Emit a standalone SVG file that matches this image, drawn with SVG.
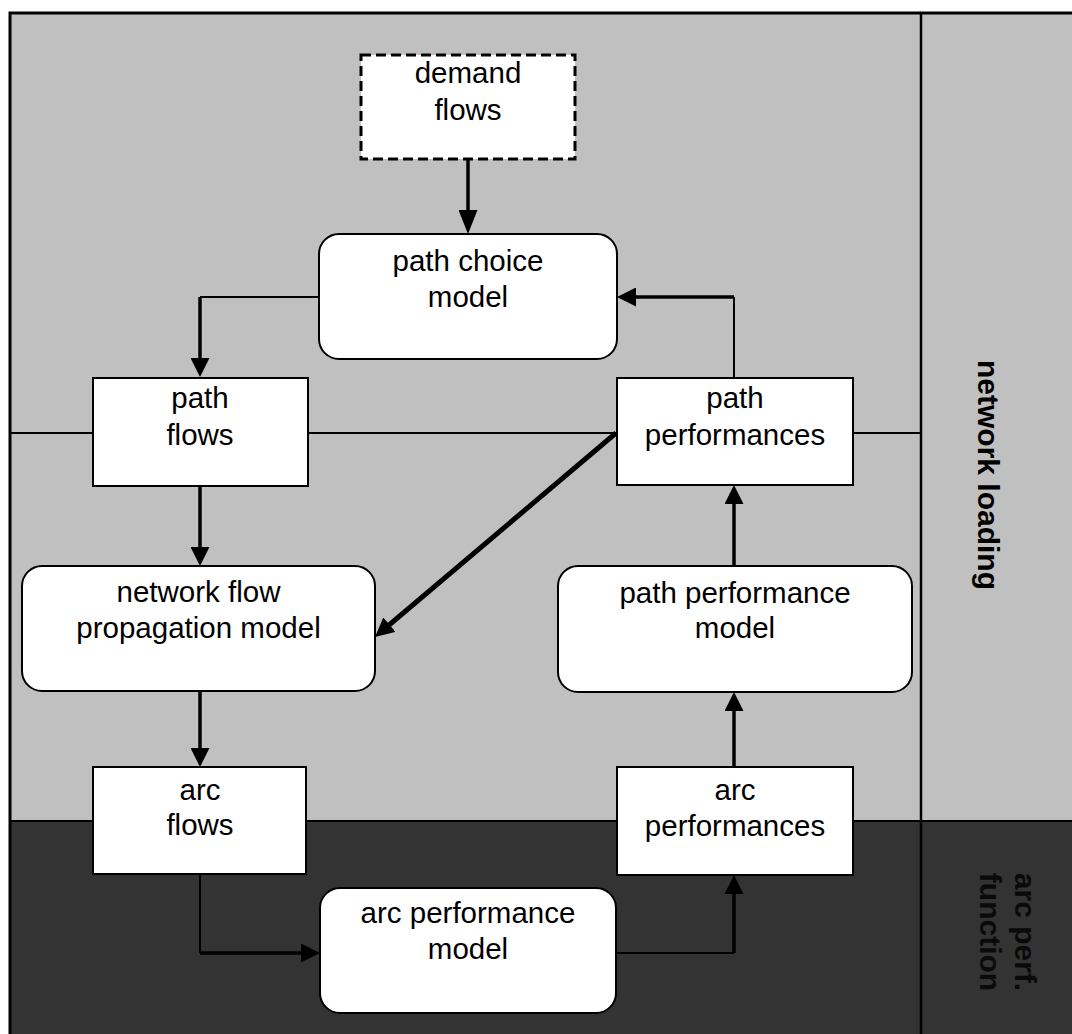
<svg xmlns="http://www.w3.org/2000/svg" width="1072" height="1034" viewBox="0 0 1072 1034">
<style>
.box{fill:#ffffff;stroke:#000000;stroke-width:2}
.dash{fill:#ffffff;stroke:#000000;stroke-width:3;stroke-dasharray:10 5}
.t{font-family:"Liberation Sans",Arial,sans-serif;font-size:29.5px;fill:#000000;text-anchor:middle}
.side{font-family:"Liberation Sans",Arial,sans-serif;font-size:30px;font-weight:bold;text-anchor:middle}
.thin{fill:none;stroke:#000000;stroke-width:2}
.thick{fill:none;stroke:#000000;stroke-width:3.5}
.diag{fill:none;stroke:#000000;stroke-width:5}
.div{fill:none;stroke:#000000;stroke-width:2}
</style>
<defs>
<marker id="ah" viewBox="0 0 19 19" markerWidth="19" markerHeight="19" refX="9" refY="9.5" orient="auto" markerUnits="userSpaceOnUse">
<path d="M0,0 L19,9.5 L0,19 z" fill="#000000"/>
</marker>
<marker id="ahl" viewBox="0 0 24 19" markerWidth="24" markerHeight="19" refX="12" refY="9.5" orient="auto" markerUnits="userSpaceOnUse">
<path d="M0,0 L24,9.5 L0,19 z" fill="#000000"/>
</marker>
</defs>
<g id="background">
<rect x="10" y="13" width="1064" height="808" fill="#c0c0c0"/>
<rect x="10" y="821" width="1064" height="215" fill="#333333"/>
<line class="div" x1="10" y1="433" x2="921" y2="433"/>
<line class="div" x1="10" y1="821" x2="1074" y2="821"/>
<line x1="921" y1="13" x2="921" y2="1036" stroke="#000000" stroke-width="2.5"/>
<rect x="10" y="13" width="1070" height="1030" fill="none" stroke="#000000" stroke-width="3"/>
</g>
<g id="lane-network-loading">
<text class="side" fill="#000000" transform="translate(978,475) rotate(90)">network loading</text>
</g>
<g id="lane-arc-perf-function">
<text class="side" fill="#0a0a0a" transform="translate(1015,932) rotate(90)">arc perf.</text>
<text class="side" fill="#0a0a0a" transform="translate(980,932) rotate(90)">function</text>
</g>
<g id="connectors">
<path class="thick" d="M468,159 V222" marker-end="url(#ahl)"/>
<path class="thin" d="M319,297 H200"/>
<path class="thick" d="M200,297 V367" marker-end="url(#ah)"/>
<path class="thick" d="M200,487 V556" marker-end="url(#ah)"/>
<path class="diag" d="M616,433 L382.6,630.5" marker-end="url(#ah)"/>
<path class="thick" d="M200,691 V757" marker-end="url(#ah)"/>
<path class="thin" d="M200,874 V953"/>
<path class="thick" d="M200,953 H310" marker-end="url(#ah)"/>
<path class="thin" d="M616,953 H734"/>
<path class="thick" d="M734,953 V885" marker-end="url(#ah)"/>
<path class="thick" d="M734,767 V702" marker-end="url(#ah)"/>
<path class="thick" d="M734,566 V495" marker-end="url(#ah)"/>
<path class="thin" d="M734,378 V297"/>
<path class="thick" d="M734,297 H627" marker-end="url(#ah)"/>
</g>
<g id="demand-flows">
<rect class="dash" x="361" y="55" width="214" height="104"/>
<text class="t" x="468" y="83">demand</text>
<text class="t" x="468" y="120">flows</text>
</g>
<g id="path-choice-model">
<rect class="box" x="319" y="234" width="298" height="125" rx="20"/>
<text class="t" x="468" y="271">path choice</text>
<text class="t" x="468" y="307">model</text>
</g>
<g id="path-flows">
<rect class="box" x="93" y="378" width="215" height="108"/>
<text class="t" x="200" y="408">path</text>
<text class="t" x="200" y="445">flows</text>
</g>
<g id="path-performances">
<rect class="box" x="617" y="378" width="236" height="107"/>
<text class="t" x="735" y="408">path</text>
<text class="t" x="735" y="445">performances</text>
</g>
<g id="network-flow-propagation-model">
<rect class="box" x="22" y="566" width="353" height="125" rx="20"/>
<text class="t" x="198.5" y="602">network flow</text>
<text class="t" x="198.5" y="638">propagation model</text>
</g>
<g id="path-performance-model">
<rect class="box" x="558" y="566" width="354" height="126" rx="20"/>
<text class="t" x="735" y="603">path performance</text>
<text class="t" x="735" y="638">model</text>
</g>
<g id="arc-flows">
<rect class="box" x="93" y="767" width="213" height="107"/>
<text class="t" x="200" y="800">arc</text>
<text class="t" x="200" y="835">flows</text>
</g>
<g id="arc-performances">
<rect class="box" x="617" y="767" width="236" height="108"/>
<text class="t" x="735" y="800">arc</text>
<text class="t" x="735" y="836">performances</text>
</g>
<g id="arc-performance-model">
<rect class="box" x="320" y="888" width="296" height="125" rx="20"/>
<text class="t" x="468" y="923">arc performance</text>
<text class="t" x="468" y="959">model</text>
</g>
</svg>
